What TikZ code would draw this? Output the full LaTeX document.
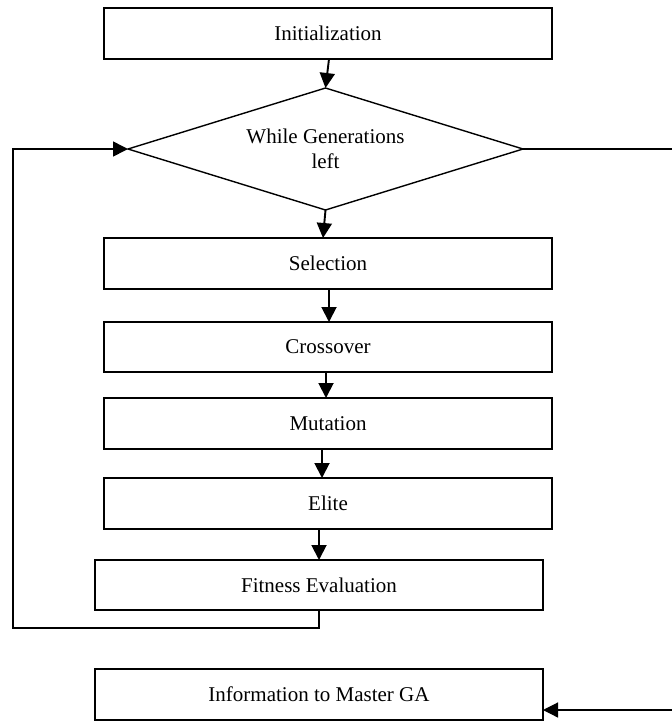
\documentclass[tikz,border=0pt]{standalone}
\usepackage{fontspec}
\setmainfont{Liberation Serif}
\usetikzlibrary{shapes.geometric,arrows.meta,calc}
\tikzset{
  procbox/.style={draw, line width=1.4pt, minimum width=448pt, inner sep=0pt, outer sep=0pt, font=\fontsize{21}{25}\selectfont},
  decbox/.style={draw, diamond, line width=1.4pt, minimum width=395pt, minimum height=122pt, shape aspect=3.24, inner sep=0pt, outer sep=0pt, align=center, font=\fontsize{21}{25}\selectfont},
  flow/.style={line width=1.9pt, -{Triangle[length=15pt,width=15pt]}},
  loopline/.style={line width=1.6pt, -{Triangle[length=15pt,width=15pt]}},
  outline/.style={line width=1.2pt, -{Triangle[length=15pt,width=15pt]}}
}
\begin{document}
\begin{tikzpicture}[x=1pt,y=-1pt]
\useasboundingbox (0,0) rectangle (672,721);
\node[procbox, minimum height=51pt] (init) at (328,33.5) {Initialization};
\node[decbox] (dia) at (325.5,149) {While Generations\\left};
\node[procbox, minimum height=51pt] (sel) at (328,263.5) {Selection};
\node[procbox, minimum height=50pt] (cro) at (328,347) {Crossover};
\node[procbox, minimum height=51pt] (mut) at (328,423.5) {Mutation};
\node[procbox, minimum height=51pt] (eli) at (328,503.5) {Elite};
\node[procbox, minimum height=50pt] (fit) at (319,585) {Fitness Evaluation};
\node[procbox, minimum height=51pt] (info) at (319,694.5) {Information to Master GA};
\coordinate (lcorner) at (12.7,628);
\coordinate (rcorner) at (678,710);
\draw[flow] ([xshift=1pt]init.south) -- (dia.north);
\draw[flow] (dia.south) -- ([xshift=-5pt]sel.north);
\draw[flow] ([xshift=1pt]sel.south) -- ([xshift=1pt]cro.north);
\draw[flow] ([xshift=-2pt]cro.south) -- ([xshift=-2pt]mut.north);
\draw[flow] ([xshift=-6pt]mut.south) -- ([xshift=-6pt]eli.north);
\draw[flow] ([xshift=-9pt]eli.south) -- (fit.north);
\draw[loopline] (fit.south) |- (lcorner) |- (dia.west);
\draw[outline] (dia.east) -| (rcorner) -- (info.east |- rcorner);
\end{tikzpicture}
\end{document}
